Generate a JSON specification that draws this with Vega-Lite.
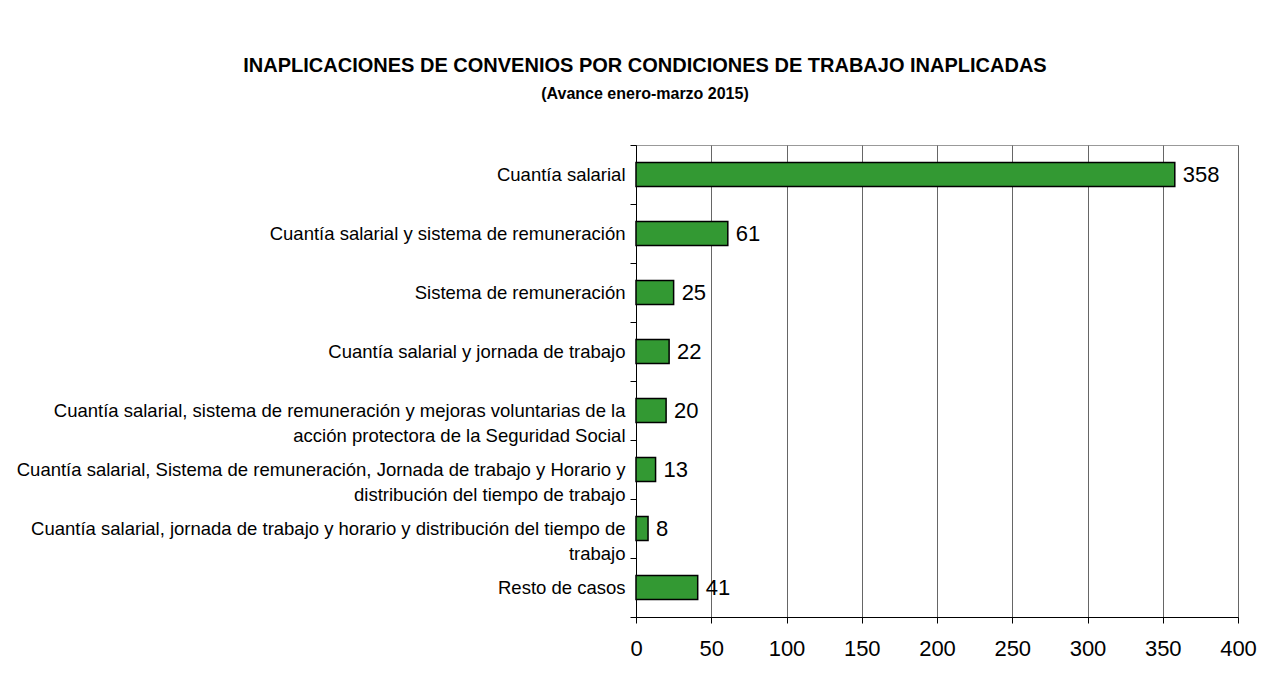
{
  "$schema": "https://vega.github.io/schema/vega-lite/v6.json",
  "width": 602,
  "height": 472,
  "autosize": {"type": "none"},
  "padding": {"left": 636, "top": 145, "right": 30, "bottom": 82},
  "background": "white",
  "title": {
    "text": "INAPLICACIONES DE CONVENIOS POR CONDICIONES DE TRABAJO INAPLICADAS",
    "subtitle": "(Avance enero-marzo 2015)",
    "anchor": "middle",
    "frame": "group",
    "dx": -292,
    "offset": 34,
    "font": "Liberation Sans",
    "fontSize": 20,
    "fontWeight": "bold",
    "color": "#000000",
    "subtitleFont": "Liberation Sans",
    "subtitleFontSize": 16,
    "subtitleFontWeight": "bold",
    "subtitleColor": "#000000",
    "subtitlePadding": 10
  },
  "config": {
    "view": {"stroke": "#999999", "strokeWidth": 1},
    "axis": {
      "labelFont": "Liberation Sans",
      "labelColor": "#000000",
      "domainColor": "#000000",
      "tickColor": "#000000",
      "domainWidth": 1,
      "tickWidth": 1
    }
  },
  "data": {
    "values": [
      {"condicion": "Cuantía salarial", "valor": 358},
      {"condicion": "Cuantía salarial y sistema de remuneración", "valor": 61},
      {"condicion": "Sistema de remuneración", "valor": 25},
      {"condicion": "Cuantía salarial y jornada de trabajo", "valor": 22},
      {"condicion": "Cuantía salarial, sistema de remuneración y mejoras voluntarias de la|acción protectora de la Seguridad Social", "valor": 20},
      {"condicion": "Cuantía salarial, Sistema de remuneración, Jornada de trabajo y Horario y|distribución del tiempo de trabajo", "valor": 13},
      {"condicion": "Cuantía salarial, jornada de trabajo y horario y distribución del tiempo de|trabajo", "valor": 8},
      {"condicion": "Resto de casos", "valor": 41}
    ]
  },
  "encoding": {
    "y": {
      "field": "condicion",
      "type": "nominal",
      "sort": null,
      "scale": {"paddingInner": 0, "paddingOuter": 0},
      "axis": {
        "title": null,
        "tickBand": "extent",
        "tickSize": 6,
        "labelPadding": 5,
        "labelFontSize": 18.5,
        "labelLineHeight": 25,
        "labelLimit": 700,
        "labelAlign": "right",
        "labelExpr": "split(datum.label, '|')",
        "grid": false
      }
    },
    "x": {
      "field": "valor",
      "type": "quantitative",
      "scale": {"domain": [0, 400], "nice": false},
      "axis": {
        "title": null,
        "values": [0, 50, 100, 150, 200, 250, 300, 350, 400],
        "grid": true,
        "gridColor": "#666666",
        "gridWidth": 1,
        "gridOpacity": 1,
        "tickSize": 6,
        "labelPadding": 15,
        "labelFontSize": 22,
        "labelFlush": false
      }
    }
  },
  "layer": [
    {
      "mark": {"type": "bar", "size": 24, "color": "#339933", "stroke": "#000000", "strokeWidth": 1.5}
    },
    {
      "mark": {"type": "text", "align": "left", "baseline": "middle", "dx": 8, "fontSize": 22, "font": "Liberation Sans", "color": "#000000"},
      "encoding": {"text": {"field": "valor", "type": "quantitative"}}
    }
  ]
}
